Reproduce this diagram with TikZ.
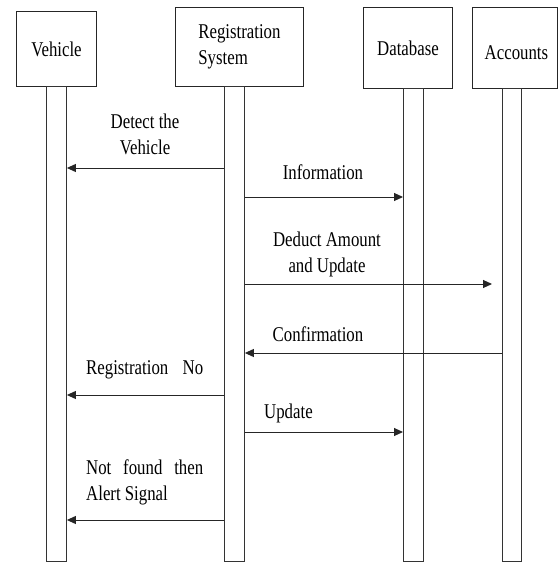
\documentclass[tikz,border=0pt]{standalone}
\usepackage{fontspec}
\setmainfont{Liberation Serif}[FakeStretch=0.8]
\usetikzlibrary{arrows.meta}
\begin{document}
\begin{tikzpicture}[x=1pt,y=-1pt,
  actor/.style={draw=black!85, line width=0.9pt, inner sep=0pt, anchor=north west,
    font=\fontsize{21}{26}\selectfont},
  bar/.style={draw=black!80, line width=0.9pt, inner sep=0pt, anchor=north west,
    minimum width=20pt},
  msg/.style={draw=black!85, line width=1pt, -{Triangle[length=9pt,width=8pt]}},
  lbl/.style={inner sep=0pt, font=\fontsize{21}{26}\selectfont, align=center}]
\useasboundingbox (0,0) rectangle (558,562);
\fill[white] (0,0) rectangle (558,562);
% actors
\node[actor, minimum width=80pt, minimum height=75pt] (veh) at (16,11) {Vehicle};
\node[actor, minimum width=128pt, minimum height=79pt, align=left] (reg) at (175,7) {Registration\\System};
\node[actor, minimum width=89pt, minimum height=81pt] (db) at (363,7) {Database};
\node[actor, minimum width=85pt, minimum height=81pt] (acc) at (472,7) {};
\node[lbl] (acctext) at ([shift={(1.5,5)}]acc.center) {Accounts};
% lifeline bars
\node[bar, minimum height=475pt] (vehbar) at (46,86) {};
\node[bar, minimum height=475pt] (regbar) at (224,86) {};
\node[bar, minimum height=473pt] (dbbar) at (403,88) {};
\node[bar, minimum height=473pt, minimum width=19pt] (accbar) at (502,88) {};
% message heights
\coordinate (m1) at (0,168);
\coordinate (m2) at (0,197);
\coordinate (m3) at (0,284);
\coordinate (m4) at (0,353);
\coordinate (m5) at (0,395);
\coordinate (m6) at (0,432);
\coordinate (m7) at (0,520);
\coordinate (t3) at (492,284);
% messages
\draw[msg] (regbar.west |- m1) -- (vehbar.east |- m1);
\draw[msg] (regbar.east |- m2) -- (dbbar.west |- m2);
\draw[msg] (regbar.east |- m3) -- (t3);
\draw[msg] (accbar.west |- m4) -- (regbar.east |- m4);
\draw[msg] (regbar.west |- m5) -- (vehbar.east |- m5);
\draw[msg] (regbar.east |- m6) -- (dbbar.west |- m6);
\draw[msg] (regbar.west |- m7) -- (vehbar.east |- m7);
% labels
\node[lbl] (l1) at (145,134) {Detect the\\Vehicle};
\node[lbl] (l2) at (323,172) {Information};
\node[lbl] (l3) at (327,254) {Deduct Amount\\and Update};
\node[lbl] (l4) at (318,334) {Confirmation};
\node[lbl, anchor=west] (l5) at (86,370) {\makebox[117pt][s]{Registration\hfill No}};
\node[lbl, anchor=west] (l6) at (264,413) {Update};
\node[lbl, anchor=west, align=left] (l7) at (86,482) {\makebox[117pt][s]{Not\hfill found\hfill then}\\Alert Signal};
\end{tikzpicture}
\end{document}
